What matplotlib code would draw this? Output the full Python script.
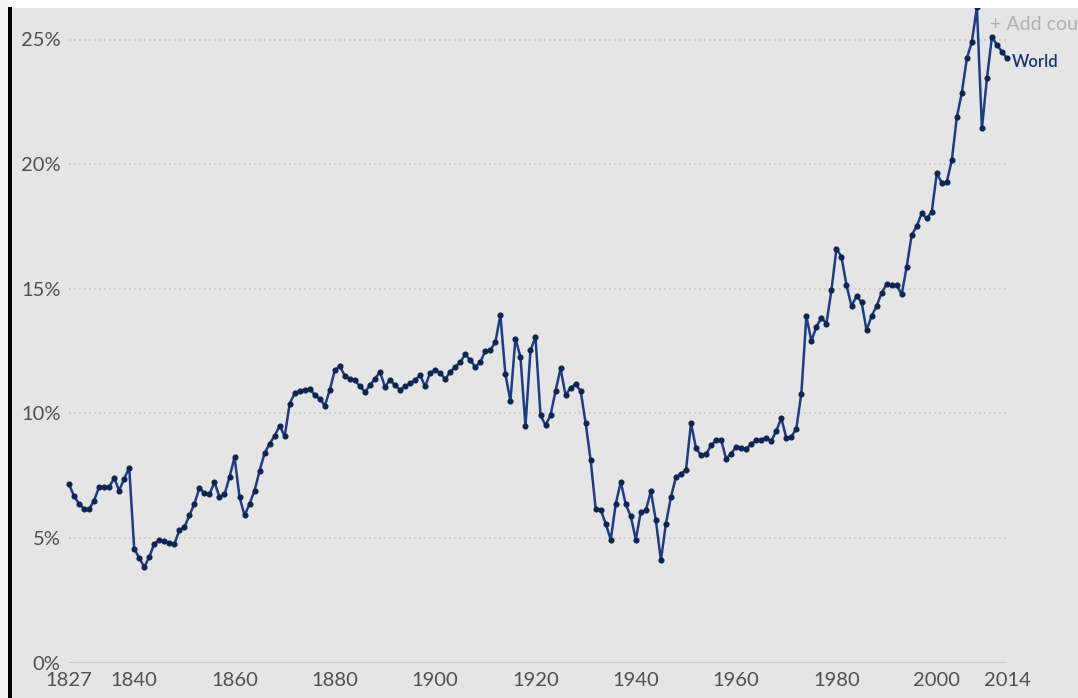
import numpy as np
import matplotlib
matplotlib.use("Agg")
import matplotlib.pyplot as plt
from matplotlib.patches import Rectangle

# share (%) by year
years = list(range(1827, 2015))
share = [
    7.15, 6.68, 6.37, 6.17, 6.14, 6.5, 7.04, 7.04, 7.04, 7.4,        # 1827-1836
    6.9, 7.37, 7.82, 4.56, 4.2, 3.83, 4.23, 4.77, 4.9, 4.87,         # 1837-1846
    4.8, 4.75, 5.3, 5.43, 5.9, 6.37, 7.0, 6.8, 6.75, 7.24,           # 1847-1856
    6.64, 6.75, 7.44, 8.24, 6.64, 5.9, 6.37, 6.9, 7.7, 8.4,          # 1857-1866
    8.78, 9.1, 9.5, 9.08, 10.39, 10.8, 10.9, 10.92, 10.99, 10.72,    # 1867-1876
    10.59, 10.3, 10.95, 11.73, 11.9, 11.49, 11.39, 11.33, 11.08, 10.86,  # 1877-1886
    11.12, 11.39, 11.66, 11.06, 11.35, 11.12, 10.95, 11.08, 11.2, 11.33,  # 1887-1896
    11.53, 11.08, 11.62, 11.73, 11.62, 11.37, 11.66, 11.86, 12.06, 12.36,  # 1897-1906
    12.13, 11.86, 12.06, 12.5, 12.53, 12.86, 13.94, 11.57, 10.5, 13.0,   # 1907-1916
    12.26, 9.48, 12.53, 13.06, 9.92, 9.52, 9.92, 10.9, 11.8, 10.72,      # 1917-1926
    11.03, 11.16, 10.9, 9.61, 8.11, 6.17, 6.13, 5.57, 4.93, 6.37,        # 1927-1936
    7.24, 6.35, 5.86, 4.93, 6.04, 6.1, 6.87, 5.7, 4.1, 5.57,             # 1937-1946
    6.64, 7.44, 7.58, 7.72, 9.6, 8.6, 8.31, 8.35, 8.71, 8.92,            # 1947-1956
    8.94, 8.18, 8.38, 8.65, 8.62, 8.58, 8.76, 8.92, 8.94, 9.02,          # 1957-1966
    8.89, 9.29, 9.81, 9.02, 9.05, 9.39, 10.79, 13.9, 12.9, 13.47,        # 1967-1976
    13.84, 13.6, 14.94, 16.61, 16.28, 15.14, 14.3, 14.7, 14.47, 13.33,   # 1977-1986
    13.9, 14.3, 14.83, 15.18, 15.14, 15.14, 14.77, 15.88, 17.15, 17.51,  # 1987-1996
    18.02, 17.82, 18.08, 19.63, 19.25, 19.29, 20.16, 21.88, 22.87, 24.24,  # 1997-2006
    24.91, 26.3, 21.43, 23.44, 25.11, 24.78, 24.51, 24.24,               # 2007-2014
]
xticks = [1827, 1840, 1860, 1880, 1900, 1920, 1940, 1960, 1980, 2000, 2014]
yticks = [0, 5, 10, 15, 20, 25]
series_name = "World"

W, H = 1078, 698
BG = "#e5e5e5"
LINE = "#1d3c86"

plt.rcParams["font.family"] = ["Lato", "DejaVu Sans"]
fig = plt.figure(figsize=(W / 100, H / 100), dpi=100, facecolor=BG)

# screenshot edges: white strip on top, dark bar on the left
fig.patches.append(Rectangle((0, (H - 8) / H), 1, 8 / H, transform=fig.transFigure,
                             facecolor="white", edgecolor="none", zorder=0))
fig.patches.append(Rectangle((0, 0), 8 / W, 1, transform=fig.transFigure,
                             facecolor="#f2f2f2", edgecolor="none", zorder=0))
fig.patches.append(Rectangle((8 / W, 0), 4 / W, (H - 7) / H, transform=fig.transFigure,
                             facecolor="black", edgecolor="none", zorder=1))

ax = fig.add_axes([69 / W, (H - 662.5) / H, (1007 - 69) / W, (662.5 - 8) / H])
ax.set_facecolor(BG)
ax.plot(years, share, color=LINE, lw=1.8, marker="o", ms=3.4,
        mfc="#0f2550", mec="#0f2550", zorder=3, clip_on=False)

ax.set_xlim(1827, 2014)
ax.set_ylim(0, (662.5 - 8) / 24.92)
ax.set_xticks(xticks)
ax.set_yticks(yticks)
ax.set_yticklabels([f"{t}%" for t in yticks])
ax.tick_params(length=0, labelcolor="#505050")
ax.tick_params(axis="x", pad=7, labelsize=14.5)
ax.tick_params(axis="y", pad=6, labelsize=14.5)
for s in ax.spines.values():
    s.set_visible(False)
for t in yticks[1:]:
    ax.axhline(t, color="#c8c8c8", lw=1.2, ls=(0, (1, 2)), zorder=1)
ax.axhline(0, color="#cccccc", lw=1.6, zorder=1)

ax.text(2015.0, share[-1] - 0.15, series_name, color="#1a3470", fontsize=12,
        fontweight="semibold", va="center", ha="left", clip_on=False)
fig.text(990 / W, 1 - 25 / H, "+ Add cou", color="#b0b0b0", fontsize=14,
         va="center", ha="left")

fig.savefig("out.png", dpi=100, facecolor=BG)
